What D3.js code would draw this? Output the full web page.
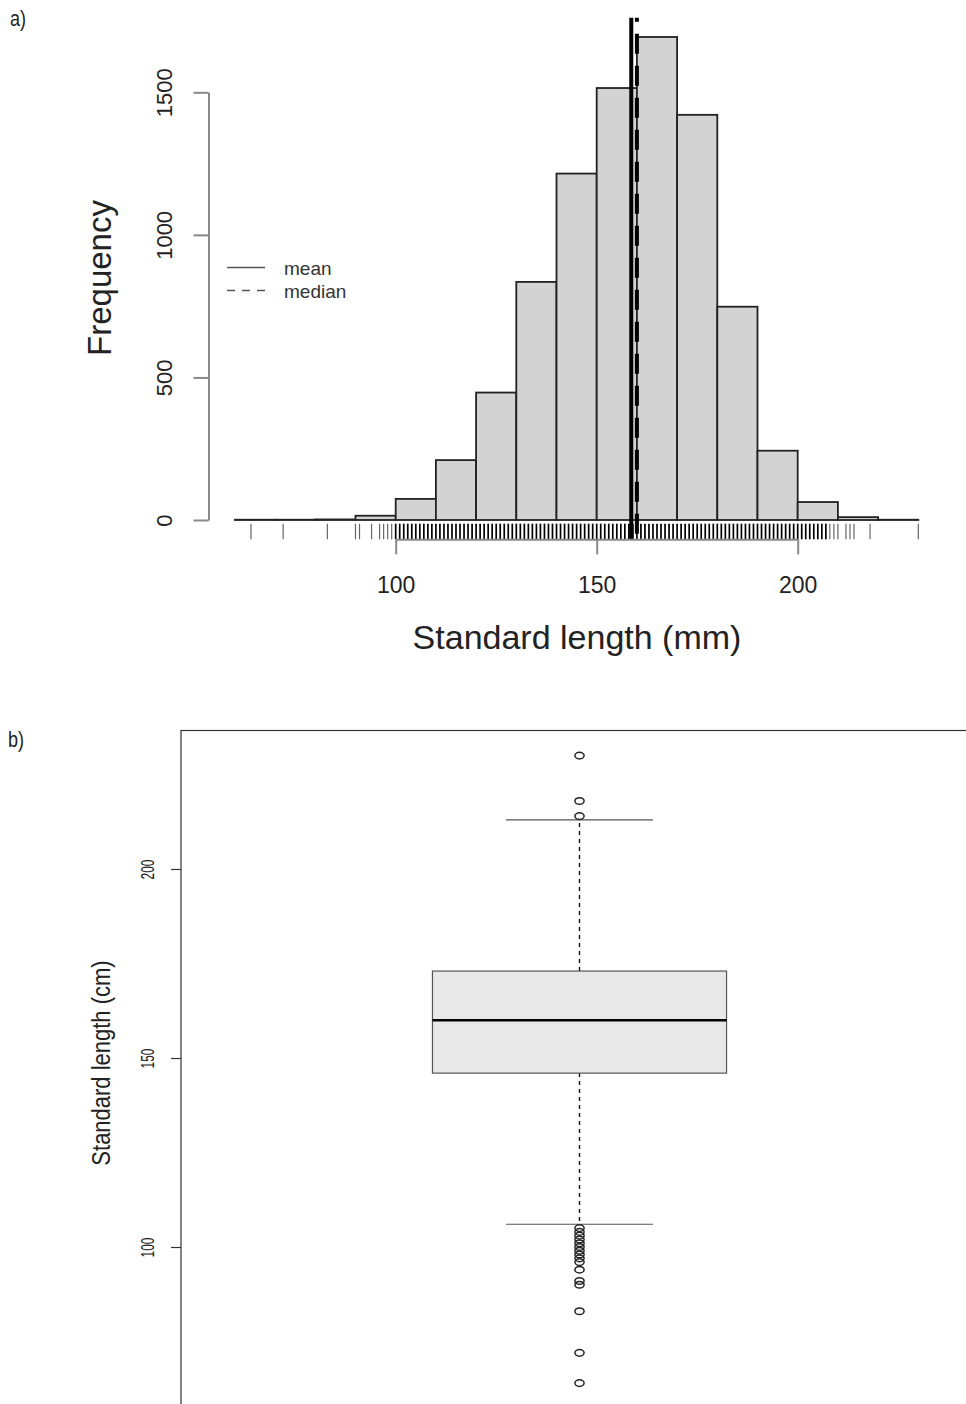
<!DOCTYPE html>
<html><head><meta charset="utf-8">
<script src="https://cdn.jsdelivr.net/npm/d3@7"></script>
<style>
body{margin:0;background:#fff}
svg{display:block}
text{font-family:"Liberation Sans",Arial,Helvetica,sans-serif}
</style>
</head><body>
<svg id="c" width="966" height="1404"></svg>
<script>
// ---------- DATA ----------
const binStarts = [60,70,80,90,100,110,120,130,140,150,160,170,180,190,200,210,220];
const binEnds   = [70,80,90,100,110,120,130,140,150,160,170,180,190,200,210,220,230];
const counts    = [1,1,2,15,74,210,447,835,1215,1515,1694,1421,748,243,63,10,1];
const meanSL = 158.6;
const medianSL = 160;
const histXTicks = [100,150,200];
const histYTicks = [0,500,1000,1500];
const legendLabels = ["mean","median"];
// distinct observed values (rug)
const rugTail = [64,72,83,90,91,94,96,97,98,99,208,209,210,212,213,214,218,230];
const rugCore = [100,101,102,103,104,105,106,107,108,109,110,111,112,113,114,115,116,117,118,119,
 120,121,122,123,124,125,126,127,128,129,130,131,132,133,134,135,136,137,138,139,
 140,141,142,143,144,145,146,147,148,149,150,151,152,153,154,155,156,157,158,159,
 160,161,162,163,164,165,166,167,168,169,170,171,172,173,174,175,176,177,178,179,
 180,181,182,183,184,185,186,187,188,189,190,191,192,193,194,195,196,197,198,199,
 200,201,202,203,204,205,206,207];
// boxplot
const boxCategory = ["Standard length"];
const boxQ1 = 146, boxMedian = 160, boxQ3 = 173;
const whiskerLow = 106, whiskerHigh = 213;
const outliersLow = [64,72,83,90,91,94,96,97,98,99,100,101,102,103,104,105];
const outliersHigh = [214,218,230];
const boxYTicks = [100,150,200];

// ---------- DRAW ----------
const svg = d3.select("#c");
const fmt = d3.format("d");

// panel labels
svg.append("text").attr("transform","translate(10,26) scale(0.82,1)")
  .attr("font-size",22).attr("fill","#222").text("a)");
svg.append("text").attr("transform","translate(8,747) scale(0.82,1)")
  .attr("font-size",22).attr("fill","#222").text("b)");

// ===== Histogram =====
const xH = d3.scaleLinear().domain([100,200]).range([395.7,797.7]);
const yH = d3.scaleLinear().domain([0,1500]).range([520,92.3]);
const maxC = d3.max(counts);
const plotTop = yH(maxC*1.04), plotBottom = yH(-maxC*0.04);

const gH = svg.append("g");
gH.selectAll("rect.bar").data(counts).join("rect").attr("class","bar")
  .attr("x",(d,i)=>xH(binStarts[i]))
  .attr("width",(d,i)=>xH(binEnds[i])-xH(binStarts[i]))
  .attr("y",d=>yH(d))
  .attr("height",d=>yH(0)-yH(d))
  .attr("fill","#d3d3d3").attr("stroke","#222").attr("stroke-width",1.8);

const rugLen = 0.03*(plotBottom-plotTop);
gH.selectAll("line.rugc").data(rugCore).join("line").attr("class","rugc")
  .attr("x1",d=>xH(d)).attr("x2",d=>xH(d))
  .attr("y1",plotBottom).attr("y2",plotBottom-rugLen)
  .attr("stroke","#000").attr("stroke-width",1.7);
gH.selectAll("line.rugt").data(rugTail).join("line").attr("class","rugt")
  .attr("x1",d=>xH(d)).attr("x2",d=>xH(d))
  .attr("y1",plotBottom).attr("y2",plotBottom-rugLen)
  .attr("stroke","#666").attr("stroke-width",1.2);

// mean & median
gH.append("line").attr("x1",xH(meanSL)).attr("x2",xH(meanSL))
  .attr("y1",plotTop).attr("y2",plotBottom).attr("stroke","#000").attr("stroke-width",4);
gH.append("line").attr("x1",xH(medianSL)).attr("x2",xH(medianSL))
  .attr("y1",plotTop).attr("y2",plotBottom).attr("stroke","#000").attr("stroke-width",4)
  .attr("stroke-dasharray","20,12").attr("stroke-dashoffset",16);

// axes
const axY = gH.append("g").attr("transform","translate(208.5,0)")
  .call(d3.axisLeft(yH).tickValues(histYTicks).tickFormat(fmt).tickSize(15).tickSizeOuter(0));
axY.select(".domain").attr("stroke","#888").attr("stroke-width",2);
axY.selectAll(".tick line").attr("stroke","#888").attr("stroke-width",2);
axY.selectAll(".tick text").attr("x",null).attr("dy",null)
  .attr("transform","translate(-37,0) rotate(-90)")
  .attr("text-anchor","middle").attr("font-size",22).attr("fill","#222")
  .attr("font-family","Liberation Sans, Arial, sans-serif");

const axX = gH.append("g").attr("transform",`translate(0,${plotBottom})`)
  .call(d3.axisBottom(xH).tickValues(histXTicks).tickFormat(fmt).tickSize(15).tickSizeOuter(0));
axX.select(".domain").attr("stroke","#888").attr("stroke-width",2);
axX.selectAll(".tick line").attr("stroke","#888").attr("stroke-width",2);
axX.selectAll(".tick text").attr("y",54).attr("dy",null)
  .attr("font-size",23).attr("fill","#222")
  .attr("font-family","Liberation Sans, Arial, sans-serif");

gH.append("text").attr("x",577).attr("y",649).attr("text-anchor","middle")
  .attr("font-size",34).attr("fill","#222").text("Standard length (mm)");
gH.append("text").attr("transform","translate(111,278) rotate(-90)")
  .attr("text-anchor","middle").attr("font-size",33).attr("fill","#222").text("Frequency");

// legend
const lg = gH.append("g");
lg.selectAll("line").data(legendLabels).join("line")
  .attr("x1",227).attr("x2",265)
  .attr("y1",(d,i)=>267.5+i*23).attr("y2",(d,i)=>267.5+i*23)
  .attr("stroke","#555").attr("stroke-width",1.6)
  .attr("stroke-dasharray",(d,i)=>i===1?"8,7":null);
lg.selectAll("text").data(legendLabels).join("text")
  .attr("x",284).attr("y",(d,i)=>275+i*23)
  .attr("font-size",19).attr("fill","#333").text(d=>d);

// ===== Boxplot =====
const yB = d3.scaleLinear().domain([100,200]).range([1247,869]);
const xB = d3.scaleBand().domain(boxCategory).range([181,978]);
const allB = [...outliersLow, ...outliersHigh, whiskerLow, whiskerHigh];
const [bMin,bMax] = d3.extent(allB);
const pad = (bMax-bMin)*0.04;
const fTop = yB(bMax+pad), fBot = yB(bMin-pad);
const gB = svg.append("g");
gB.append("rect").attr("x",181).attr("y",fTop)
  .attr("width",xB.range()[1]-181).attr("height",fBot-fTop)
  .attr("fill","none").attr("stroke","#333").attr("stroke-width",1.2);

const cx = xB(boxCategory[0]) + xB.bandwidth()/2;
const bHalf = xB.bandwidth()*0.1845, cHalf = bHalf/2;

// whiskers
gB.append("line").attr("x1",cx).attr("x2",cx).attr("y1",yB(boxQ3)).attr("y2",yB(whiskerHigh))
  .attr("stroke","#111").attr("stroke-width",1.4).attr("stroke-dasharray","4,4");
gB.append("line").attr("x1",cx).attr("x2",cx).attr("y1",yB(boxQ1)).attr("y2",yB(whiskerLow))
  .attr("stroke","#111").attr("stroke-width",1.4).attr("stroke-dasharray","4,4");
[whiskerLow, whiskerHigh].forEach(v=>{
  gB.append("line").attr("x1",cx-cHalf).attr("x2",cx+cHalf).attr("y1",yB(v)).attr("y2",yB(v))
    .attr("stroke","#555").attr("stroke-width",1.1);
});
// box
gB.append("rect").attr("x",cx-bHalf).attr("width",2*bHalf)
  .attr("y",yB(boxQ3)).attr("height",yB(boxQ1)-yB(boxQ3))
  .attr("fill","#e8e8e8").attr("stroke","#555").attr("stroke-width",1.2);
gB.append("line").attr("x1",cx-bHalf).attr("x2",cx+bHalf)
  .attr("y1",yB(boxMedian)).attr("y2",yB(boxMedian))
  .attr("stroke","#000").attr("stroke-width",2.6);
// outliers
gB.selectAll("ellipse").data([...outliersLow,...outliersHigh]).join("ellipse")
  .attr("cx",cx).attr("cy",d=>yB(d)).attr("rx",4.6).attr("ry",3.3)
  .attr("fill","none").attr("stroke","#222").attr("stroke-width",1.5);

// axis
const axB = gB.append("g").attr("transform","translate(181,0)")
  .call(d3.axisLeft(yB).tickValues(boxYTicks).tickFormat(fmt).tickSize(10).tickSizeOuter(0));
axB.select(".domain").remove();
axB.selectAll(".tick line").attr("stroke","#333").attr("stroke-width",1.2);
axB.selectAll(".tick text").attr("x",null).attr("dy",null)
  .attr("transform","translate(-27,0) rotate(-90) scale(0.66,1)")
  .attr("text-anchor","middle").attr("font-size",18).attr("fill","#222")
  .attr("font-family","Liberation Sans, Arial, sans-serif");
gB.append("text").attr("transform","translate(110,1063) rotate(-90) scale(0.88,1)")
  .attr("text-anchor","middle").attr("font-size",25).attr("fill","#222")
  .text("Standard length (cm)");
</script>
</body></html>
